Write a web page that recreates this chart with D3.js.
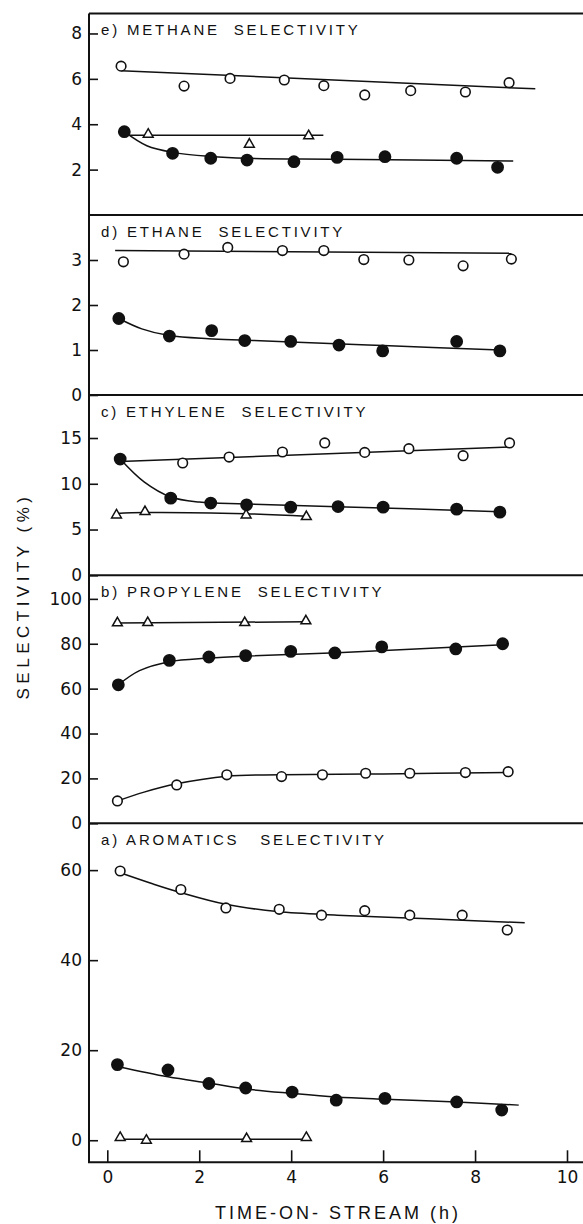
<!DOCTYPE html>
<html>
<head>
<meta charset="utf-8">
<script src="https://cdn.jsdelivr.net/npm/d3@7"></script>
<style>
  html, body { margin: 0; padding: 0; background: #fff; }
  svg { display: block; }
  text { font-family: "Liberation Sans", Arial, sans-serif; fill: #111; }
</style>
</head>
<body>
<svg id="chart" width="583" height="1224"></svg>
<script>
// ---- Data: [time-on-stream (h), selectivity (%)] ----
const timeTicks = [0, 2, 4, 6, 8, 10];

// e) methane
const methaneOpen = [[0.30, 6.56], [1.67, 5.68], [2.67, 6.02], [3.85, 5.95], [4.71, 5.70], [5.60, 5.29], [6.60, 5.48], [7.79, 5.42], [8.74, 5.83]];
const methaneOpenFit = [[0.30, 6.36], [9.31, 5.56]];
const methaneFilled = [[0.37, 3.67], [1.42, 2.72], [2.25, 2.50], [3.04, 2.42], [4.06, 2.35], [5.00, 2.54], [6.04, 2.57], [7.60, 2.50], [8.49, 2.10]];
const methaneFilledFit = [[0.37, 3.67], [0.86, 3.05], [1.42, 2.76], [2.25, 2.58], [3.04, 2.50], [5.0, 2.46], [8.83, 2.38]];
const methaneTri = [[0.89, 3.52], [3.09, 3.08], [4.38, 3.45]];
const methaneTriFit = [[0.44, 3.52], [4.70, 3.52]];
const methaneTicks = [2, 4, 6, 8];

// d) ethane
const ethaneOpen = [[0.35, 2.96], [1.67, 3.13], [2.62, 3.28], [3.81, 3.21], [4.71, 3.21], [5.58, 3.01], [6.56, 3.00], [7.74, 2.87], [8.79, 3.02]];
const ethaneOpenFit = [[0.17, 3.21], [8.79, 3.15]];
const ethaneFilled = [[0.25, 1.70], [1.35, 1.31], [2.27, 1.43], [2.99, 1.21], [3.99, 1.19], [5.04, 1.11], [5.99, 0.98], [7.60, 1.19], [8.54, 0.98]];
const ethaneFilledFit = [[0.25, 1.70], [0.75, 1.47], [1.35, 1.32], [2.2, 1.25], [3.0, 1.22], [4.0, 1.18], [6.0, 1.10], [8.54, 1.00]];
const ethaneTicks = [0, 1, 2, 3];

// c) ethylene
const ethyleneOpen = [[1.64, 12.27], [2.65, 12.92], [3.81, 13.47], [4.73, 14.46], [5.60, 13.43], [6.56, 13.83], [7.74, 13.07], [8.75, 14.46]];
const ethyleneOpenFit = [[0.28, 12.44], [8.75, 14.02]];
const ethyleneFilled = [[0.28, 12.70], [1.38, 8.43], [2.25, 7.89], [3.03, 7.70], [3.99, 7.45], [5.02, 7.51], [6.00, 7.45], [7.60, 7.23], [8.54, 6.90]];
const ethyleneFilledFit = [[0.28, 12.70], [0.8, 10.2], [1.38, 8.55], [2.0, 8.0], [3.0, 7.8], [5.0, 7.5], [8.54, 6.95]];
const ethyleneTri = [[0.20, 6.49], [0.82, 6.86], [3.02, 6.49], [4.33, 6.31]];
const ethyleneTriFit = [[0.20, 6.75], [0.82, 6.86], [3.02, 6.72], [4.33, 6.45]];
const ethyleneTicks = [0, 5, 10, 15];

// b) propylene
const propyleneTri = [[0.22, 88.9], [0.88, 89.0], [2.99, 89.0], [4.32, 89.8]];
const propyleneTriFit = [[0.22, 89.2], [4.32, 89.8]];
const propyleneFilled = [[0.24, 61.7], [1.35, 72.6], [2.21, 74.1], [3.01, 74.7], [3.99, 76.6], [4.95, 75.9], [5.97, 78.6], [7.58, 77.7], [8.60, 80.0]];
const propyleneFilledFit = [[0.24, 61.7], [0.7, 68.0], [1.35, 72.0], [2.2, 73.6], [3.0, 74.5], [5.0, 76.0], [8.6, 79.6]];
const propyleneOpen = [[0.22, 9.95], [1.51, 17.1], [2.60, 21.6], [3.79, 20.8], [4.68, 21.6], [5.62, 22.3], [6.58, 22.3], [7.79, 22.6], [8.72, 23.0]];
const propyleneOpenFit = [[0.22, 9.95], [0.8, 13.9], [1.51, 17.6], [2.6, 21.0], [3.79, 21.6], [6.0, 22.0], [8.72, 22.6]];
const propyleneTicks = [0, 20, 40, 60, 80, 100];

// a) aromatics
const aromaticsOpen = [[0.28, 59.8], [1.60, 55.7], [2.58, 51.6], [3.74, 51.3], [4.66, 50.0], [5.60, 51.0], [6.58, 50.0], [7.72, 50.0], [8.70, 46.7]];
const aromaticsOpenFit = [[0.28, 59.4], [1.0, 56.9], [1.6, 55.0], [2.58, 52.4], [3.7, 50.8], [5.0, 50.0], [7.0, 49.2], [9.08, 48.3]];
const aromaticsFilled = [[0.22, 16.8], [1.32, 15.6], [2.21, 12.6], [3.01, 11.6], [4.02, 10.7], [4.98, 8.9], [6.04, 9.3], [7.60, 8.5], [8.58, 6.7]];
const aromaticsFilledFit = [[0.22, 16.4], [1.32, 14.1], [2.21, 12.7], [3.01, 11.4], [4.02, 10.4], [4.98, 9.6], [6.04, 9.1], [7.6, 8.5], [8.95, 7.8]];
const aromaticsTri = [[0.28, 0.4], [0.85, -0.2], [3.03, 0.15], [4.33, 0.4]];
const aromaticsTriFit = [[0.28, 0.2], [4.33, 0.2]];
const aromaticsTicks = [0, 20, 40, 60];

// ---- Panel definitions (top to bottom) ----
const panels = [
  { title: "e) METHANE  SELECTIVITY", domain: [0, 8.88], ticks: methaneTicks,
    series: [
      { pts: methaneOpen, fit: methaneOpenFit, mark: "open" },
      { pts: methaneFilled, fit: methaneFilledFit, mark: "filled" },
      { pts: methaneTri, fit: methaneTriFit, mark: "tri" } ] },
  { title: "d) ETHANE  SELECTIVITY", domain: [0, 4], ticks: ethaneTicks,
    series: [
      { pts: ethaneOpen, fit: ethaneOpenFit, mark: "open" },
      { pts: ethaneFilled, fit: ethaneFilledFit, mark: "filled" } ] },
  { title: "c) ETHYLENE  SELECTIVITY", domain: [0, 19.7], ticks: ethyleneTicks,
    series: [
      { pts: ethyleneOpen, fit: ethyleneOpenFit, mark: "open" },
      { pts: ethyleneFilled, fit: ethyleneFilledFit, mark: "filled" },
      { pts: ethyleneTri, fit: ethyleneTriFit, mark: "tri" } ] },
  { title: "b) PROPYLENE  SELECTIVITY", domain: [0, 110.5], ticks: propyleneTicks,
    series: [
      { pts: propyleneTri, fit: propyleneTriFit, mark: "tri" },
      { pts: propyleneFilled, fit: propyleneFilledFit, mark: "filled" },
      { pts: propyleneOpen, fit: propyleneOpenFit, mark: "open" } ] },
  { title: "a) AROMATICS   SELECTIVITY", domain: [-4.9, 70.4], ticks: aromaticsTicks,
    series: [
      { pts: aromaticsOpen, fit: aromaticsOpenFit, mark: "open" },
      { pts: aromaticsFilled, fit: aromaticsFilledFit, mark: "filled" },
      { pts: aromaticsTri, fit: aromaticsTriFit, mark: "tri" } ] }
];

// ---- Layout ----
const W = 583;
const axisX = 89;                       // left frame line
const bounds = [13.5, 215, 395, 575.3, 823.3, 1162.3]; // panel edges, top to bottom
const tickFont = "'DejaVu Sans', Verdana, sans-serif";
const svg = d3.select("#chart");

const x = d3.scaleLinear().domain([0, 10]).range([107.3, 567]);

panels.forEach((p, i) => {
  const top = bounds[i], bottom = bounds[i + 1];
  const y = d3.scaleLinear().domain(p.domain).range([bottom, top]);
  const g = svg.append("g");

  // panel top rule
  g.append("line")
    .attr("x1", axisX).attr("x2", W)
    .attr("y1", top).attr("y2", top)
    .attr("stroke", "#111").attr("stroke-width", 2);

  // left ticks (pointing inward) with labels
  const ax = d3.axisLeft(y).tickValues(p.ticks).tickSize(-9).tickPadding(7).tickFormat(d3.format("d"));
  const axG = g.append("g").attr("transform", `translate(${axisX},0)`).call(ax);
  axG.select(".domain").remove();
  axG.selectAll(".tick line").attr("stroke", "#111").attr("stroke-width", 1.6);
  axG.selectAll(".tick text")
    .style("font-size", "17px")
    .style("font-family", tickFont)
    .attr("fill", "#111");

  // panel title
  g.append("text")
    .attr("x", 101).attr("y", top + 21.5)
    .style("font-size", "15px")
    .style("letter-spacing", "2.8px")
    .style("white-space", "pre")
    .text(p.title);

  // fitted curves
  p.series.forEach(s => {
    const ln = d3.line().x(d => x(d[0])).y(d => y(d[1]))
      .curve(s.fit.length > 2 ? d3.curveCatmullRom.alpha(0.5) : d3.curveLinear);
    g.append("path")
      .attr("d", ln(s.fit))
      .attr("fill", "none").attr("stroke", "#111").attr("stroke-width", 1.5);
  });

  // markers
  p.series.forEach(s => {
    const mg = g.append("g");
    if (s.mark === "tri") {
      const tri = d3.symbol().type(d3.symbolTriangle).size(42);
      mg.selectAll("path").data(s.pts).join("path")
        .attr("d", tri)
        .attr("transform", d => `translate(${x(d[0])},${y(d[1]) - 0.8})`)
        .attr("fill", "#fff").attr("stroke", "#111").attr("stroke-width", 1.5);
    } else {
      mg.selectAll("circle").data(s.pts).join("circle")
        .attr("cx", d => x(d[0])).attr("cy", d => y(d[1]))
        .attr("r", s.mark === "filled" ? 5.6 : 4.8)
        .attr("fill", s.mark === "filled" ? "#111" : "#fff")
        .attr("stroke", "#111").attr("stroke-width", 1.6);
    }
  });
});

// left frame line
svg.append("line")
  .attr("x1", axisX).attr("x2", axisX)
  .attr("y1", bounds[0]).attr("y2", bounds[5])
  .attr("stroke", "#111").attr("stroke-width", 2);

// bottom time axis
const bx = d3.axisBottom(x).tickValues(timeTicks).tickSize(-12).tickPadding(9).tickFormat(d3.format("d"));
const bxG = svg.append("g").attr("transform", `translate(0,${bounds[5]})`).call(bx);
bxG.select(".domain").remove();
bxG.selectAll(".tick line").attr("stroke", "#111").attr("stroke-width", 1.6);
bxG.selectAll(".tick text").style("font-size", "17px")
  .style("font-family", tickFont).attr("fill", "#111");
svg.append("line")
  .attr("x1", axisX - 1).attr("x2", W)
  .attr("y1", bounds[5]).attr("y2", bounds[5])
  .attr("stroke", "#111").attr("stroke-width", 2);

// axis titles
svg.append("text")
  .attr("x", 338).attr("y", 1219)
  .attr("text-anchor", "middle")
  .style("font-size", "18px")
  .style("letter-spacing", "3px")
  .style("white-space", "pre")
  .text("TIME-ON- STREAM (h)");

svg.append("text")
  .attr("transform", "translate(29,596) rotate(-90)")
  .attr("text-anchor", "middle")
  .style("font-size", "17px")
  .style("letter-spacing", "4.5px")
  .text("SELECTIVITY (%)");
</script>
</body>
</html>
